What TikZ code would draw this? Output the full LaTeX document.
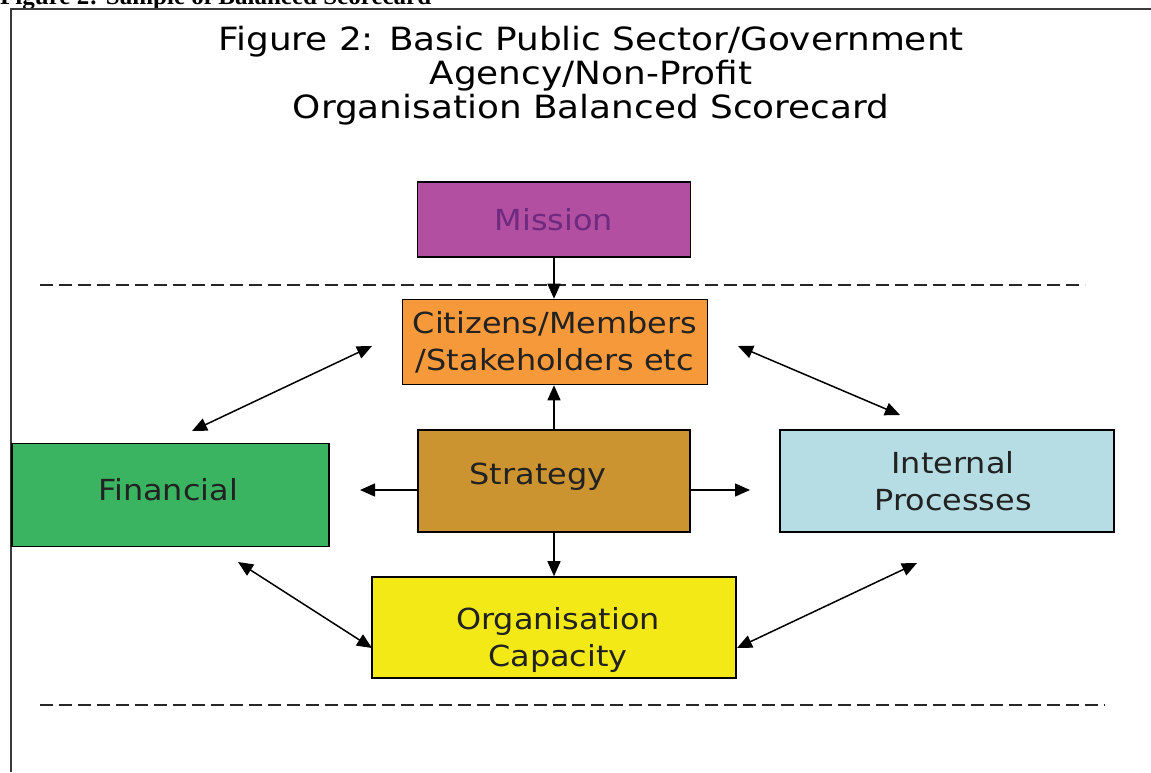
\documentclass[tikz,border=0pt]{standalone}
\usepackage{fontspec}
\setmainfont{DejaVu Sans}
\newfontfamily\capfont{Liberation Serif}
\usetikzlibrary{arrows.meta}
\definecolor{missionfill}{HTML}{B24FA0}
\definecolor{missiontext}{HTML}{6E2A80}
\definecolor{citfill}{HTML}{F5993A}
\definecolor{stratfill}{HTML}{CC9430}
\definecolor{finfill}{HTML}{3BB462}
\definecolor{intfill}{HTML}{B5DDE3}
\definecolor{orgfill}{HTML}{F2E916}
\definecolor{txt}{HTML}{222222}
\definecolor{framecol}{HTML}{3A3A3A}
\newcommand{\bwd}[1]{\scalebox{1.1}[1]{#1}}
\newcommand{\twd}[1]{\scalebox{1.12}[1]{#1}}
\tikzset{
  boxnode/.style={draw=black, line width=1.6pt, rectangle, inner sep=0pt, text=txt, align=center,
    font=\fontsize{29}{37}\selectfont},
  arr/.style={line width=1.5pt, -{Triangle[length=15pt,width=13pt]}},
  darr/.style={line width=1.5pt, {Triangle[length=15pt,width=13pt]}-{Triangle[length=15pt,width=13pt]}},
  sep/.style={line width=2pt, dash pattern=on 13pt off 6pt, color=black!85},
  txtnode/.style={inner sep=0pt, text=txt, align=center, font=\fontsize{29}{37}\selectfont}
}
\begin{document}
\begin{tikzpicture}[x=1pt,y=-1pt]
\useasboundingbox (0,0) rectangle (1151,772);
\fill[white] (0,0) rectangle (1151,772);
% caption (cut off at top)
\node[anchor=base west, inner sep=0pt, font=\capfont\bfseries\fontsize{25}{25}\selectfont] (cap) at (0,4) {Figure 2: Sample of Balanced Scorecard};
% frame
\draw[framecol, line width=2pt] (10.5,772) -- (10.5,9) -- (1151,9);
% title
\node[inner sep=0pt, align=center, font=\fontsize{32}{34}\selectfont, text=black] (title) at (591,76)
  {\twd{Figure 2: Basic Public Sector/Government}\\\twd{Agency/Non-Profit}\\\twd{Organisation Balanced Scorecard}};
% boxes
\node[boxnode, fill=missionfill, text=missiontext, minimum width=273pt, minimum height=75pt] (mission) at (554,219.5) {\bwd{Mission}};
\node[boxnode, fill=citfill, minimum width=305pt, minimum height=85pt] (cit) at (555,342) {\bwd{Citizens/Members}\\\bwd{/Stakeholders etc}};
\node[boxnode, fill=stratfill, minimum width=272pt, minimum height=102pt] (strat) at (554,481) {};
\node[txtnode] (strattext) at (538,477) {\bwd{Strategy}};
\node[boxnode, fill=finfill, minimum width=317pt, minimum height=103pt] (fin) at (170.5,495) {};
\node[txtnode] (fintext) at (168,490) {\bwd{Financial}};
\node[boxnode, fill=intfill, minimum width=334pt, minimum height=102pt] (int) at (947,481) {};
\node[txtnode] (inttext) at (953,481) {\bwd{Internal}\\\bwd{Processes}};
\node[boxnode, fill=orgfill, minimum width=364pt, minimum height=101pt] (org) at (554,627.5) {};
\node[txtnode] (orgtext) at (558,640) {\bwd{Organisation}\\\bwd{Capacity}};
% dashed separators
\coordinate (d1a) at (40,285); \coordinate (d1b) at (1085,285);
\coordinate (d2a) at (40,705); \coordinate (d2b) at (1105,705);
\draw[sep] (d1a) -- (d1b);
\draw[sep] (d2a) -- (d2b);
% free ends
\coordinate (sl) at (360,490);
\coordinate (sr) at (750,490);
\coordinate (ul1) at (372,346); \coordinate (ul2) at (192,431);
\coordinate (ur1) at (738,346); \coordinate (ur2) at (900,415);
\coordinate (ll1) at (238,562); \coordinate (ll2) at (372,648);
\coordinate (lr1) at (737,648); \coordinate (lr2) at (917,563);
% arrows
\draw[arr] (mission.south) -- (mission.south |- cit.north);
\draw[arr] (strat.north) -- (strat.north |- cit.south);
\draw[arr] (strat.south) -- (org.north);
\draw[arr] (strat.west |- sl) -- (sl);
\draw[arr] (strat.east |- sr) -- (sr);
\draw[darr] (ul1) -- (ul2);
\draw[darr] (ur1) -- (ur2);
\draw[darr] (ll1) -- (ll2);
\draw[darr] (lr1) -- (lr2);
\end{tikzpicture}
\end{document}
